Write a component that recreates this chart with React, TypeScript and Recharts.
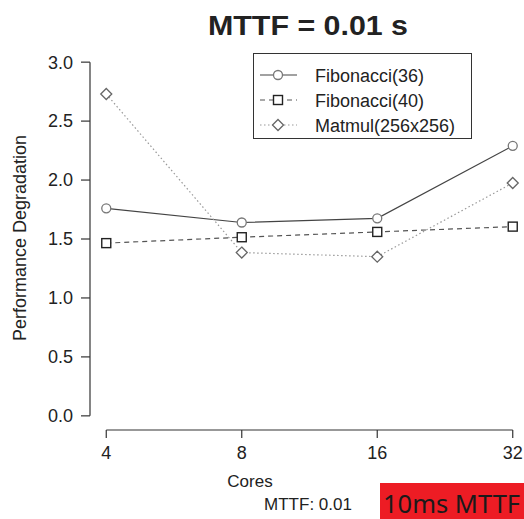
import React from "react";
import {
  LineChart,
  Line,
  XAxis,
  YAxis,
  Legend,
  ReferenceLine,
} from "recharts";

// cores on the x axis (log2 spaced)
const cores = [4, 8, 16, 32];
const fib36 = [1.76, 1.64, 1.675, 2.29];
const fib40 = [1.465, 1.515, 1.56, 1.605];
const matmul = [2.73, 1.385, 1.35, 1.975];
const yTicks = [0, 0.5, 1, 1.5, 2, 2.5, 3];

const data = cores.map((c, i) => ({
  cores: c,
  x: Math.log2(c),
  fib36: fib36[i],
  fib40: fib40[i],
  matmul: matmul[i],
}));

const FONT = '"Liberation Sans", Arial, Helvetica, sans-serif';

const Circle = (props: any) => {
  const { cx, cy } = props;
  if (cx == null || cy == null) return null;
  return <circle cx={cx} cy={cy} r={4.5} fill="#fff" stroke="#777" strokeWidth={1.3} />;
};

const Square = (props: any) => {
  const { cx, cy } = props;
  if (cx == null || cy == null) return null;
  return <rect x={cx - 4.5} y={cy - 4.5} width={9} height={9} fill="#fff" stroke="#222" strokeWidth={1.4} />;
};

const Diamond = (props: any) => {
  const { cx, cy } = props;
  if (cx == null || cy == null) return null;
  const r = 5.5;
  return (
    <polygon
      points={`${cx},${cy - r} ${cx + r},${cy} ${cx},${cy + r} ${cx - r},${cy}`}
      fill="#fff"
      stroke="#666"
      strokeWidth={1.3}
    />
  );
};

const series = [
  { key: "fib36", name: "Fibonacci(36)", stroke: "#444", dash: undefined, Dot: Circle },
  { key: "fib40", name: "Fibonacci(40)", stroke: "#555", dash: "5 4", Dot: Square },
  { key: "matmul", name: "Matmul(256x256)", stroke: "#999", dash: "1.5 2.5", Dot: Diamond },
];

function LegendBox() {
  return (
    <div
      style={{
        width: 219,
        height: 86,
        border: "1px solid #333",
        boxSizing: "border-box",
        background: "#fff",
      }}
    >
      <svg width={217} height={84}>
        {series.map((s, i) => {
          const y = 21 + i * 25;
          const D = s.Dot;
          return (
            <g key={s.key}>
              <line x1={6} x2={43} y1={y} y2={y} stroke={s.stroke} strokeWidth={1.2} strokeDasharray={s.dash} />
              <D cx={24} cy={y} />
              <text x={61} y={y + 6.5} fontSize={18} fontFamily={FONT} fill="#222">
                {s.name}
              </text>
            </g>
          );
        })}
      </svg>
    </div>
  );
}

export default function App() {
  return (
    <div style={{ position: "absolute", left: 0, top: 0, width: 524, height: 519, overflow: "hidden", background: "#fff" }}>
      <LineChart
        width={540}
        height={519}
        data={data}
        margin={{ top: 48, right: 11, bottom: 49, left: 0 }}
        style={{ fontFamily: FONT }}
      >
        <XAxis
          type="number"
          dataKey="x"
          domain={[1.88, 5.12]}
          ticks={[2, 3, 4, 5]}
          tickFormatter={(v: number) => String(Math.round(Math.pow(2, v)))}
          axisLine={false}
          tickLine={{ stroke: "#333", strokeWidth: 1.2 }}
          tickSize={8}
          tickMargin={8}
          height={40}
          tick={{ fontSize: 18, fill: "#222" }}
          allowDataOverflow
        />
        <YAxis
          type="number"
          domain={[-0.12, 3.12]}
          ticks={yTicks}
          tickFormatter={(v: number) => v.toFixed(1)}
          axisLine={false}
          tickLine={{ stroke: "#333", strokeWidth: 1.2 }}
          tickSize={9}
          tickMargin={8}
          width={90}
          tick={{ fontSize: 18, fill: "#222" }}
          allowDataOverflow
        />
        <ReferenceLine
          segment={[{ x: 2, y: -0.12 }, { x: 5, y: -0.12 }]}
          stroke="#333"
          strokeWidth={1.2}
          ifOverflow="visible"
        />
        <ReferenceLine
          segment={[{ x: 1.88, y: 0 }, { x: 1.88, y: 3 }]}
          stroke="#333"
          strokeWidth={1.2}
          ifOverflow="visible"
        />
        <Legend
          layout="vertical"
          align="center"
          verticalAlign="middle"
          content={() => <LegendBox />}
          wrapperStyle={{ position: "absolute", left: 253, top: 53, width: 219, height: 86 }}
        />
        {series.map((s) => (
          <Line
            key={s.key}
            type="linear"
            dataKey={s.key}
            name={s.name}
            stroke={s.stroke}
            strokeWidth={1.2}
            strokeDasharray={s.dash}
            dot={<s.Dot />}
            activeDot={false}
            isAnimationActive={false}
          />
        ))}
      </LineChart>
      <svg
        width={524}
        height={519}
        style={{ position: "absolute", left: 0, top: 0, pointerEvents: "none" }}
      >
        <text x={308} y={35} textAnchor="middle" fontSize={28} fontWeight="bold" fontFamily={FONT} fill="#222" textLength={200} lengthAdjust="spacingAndGlyphs">
          MTTF = 0.01 s
        </text>
        <text
          transform="translate(26,238) rotate(-90)"
          textAnchor="middle"
          fontSize={18}
          fontFamily={FONT}
          fill="#222"
        >
          Performance Degradation
        </text>
        <text x={250} y={487} textAnchor="middle" fontSize={17} fontFamily={FONT} fill="#222">
          Cores
        </text>
        <text x={308} y={510} textAnchor="middle" fontSize={17} fontFamily={FONT} fill="#222">
          MTTF: 0.01
        </text>
        <rect x={380} y={483} width={150} height={36} fill="#ED1C24" />
        <text x={383} y={513} fontSize={25.5} fontFamily='"Noto Sans", "Open Sans", sans-serif' fill="#1a1a1a">
          10ms MTTF
        </text>
      </svg>
    </div>
  );
}
